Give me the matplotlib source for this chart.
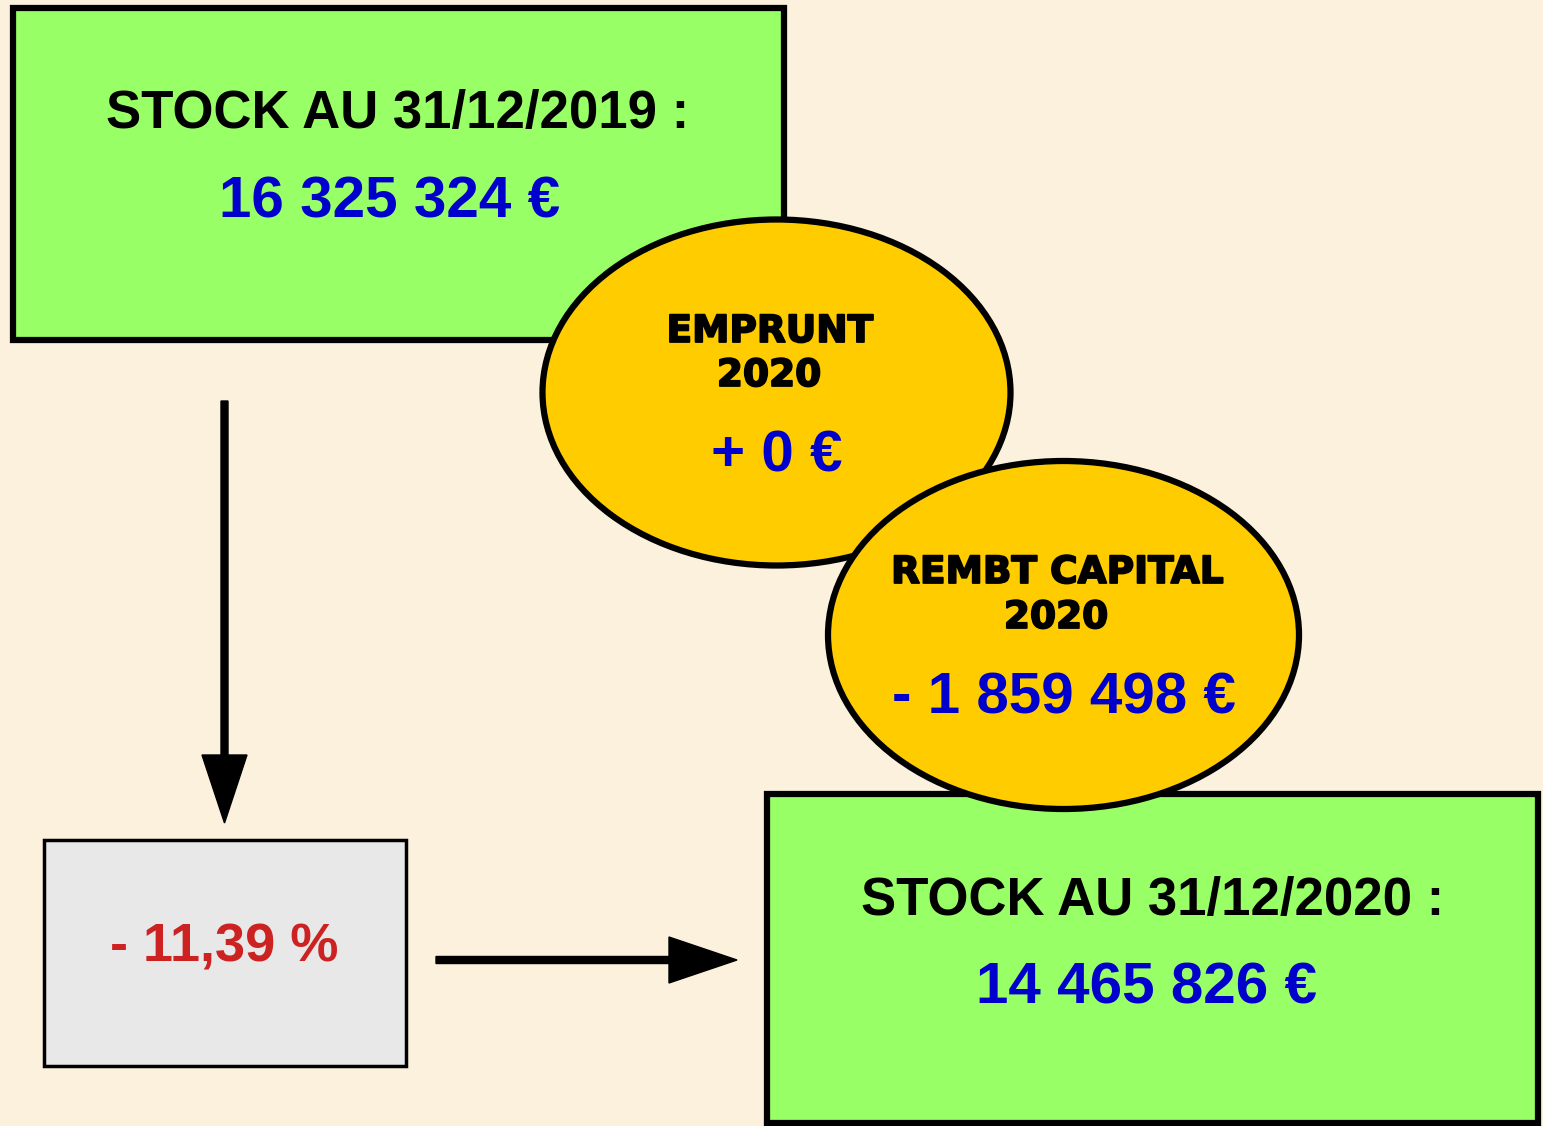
import matplotlib
matplotlib.use('Agg')
import matplotlib.pyplot as plt
import matplotlib.patheffects as pe
from matplotlib.patches import Rectangle, Ellipse, FancyArrow

# values shown in the diagram
stock_dates = ['31/12/2019', '31/12/2020']
stock_values = [16325324, 14465826]
flow_labels = ['EMPRUNT', 'REMBT CAPITAL']
flow_year = 2020
flow_values = [0, -1859498]
variation_pct = -11.39

BG = '#fbf1dc'
GREEN = '#99ff66'
YELLOW = '#ffcc00'
BLUE = '#0000cc'
RED = '#cc2222'
GREY = '#e8e8e8'
MAIN_FONT = ['Liberation Sans', 'DejaVu Sans']
BUBBLE_FONT = ['DejaVu Sans']


def fmt_euro(v, signed=False):
    s = '{:,}'.format(abs(v)).replace(',', ' ') + ' €'
    if signed:
        s = ('- ' if v < 0 else '+ ') + s
    return s


def fmt_pct(v):
    s = '{:.2f}'.format(abs(v)).replace('.', ',') + ' %'
    return ('- ' if v < 0 else '+ ') + s


W, H = 1543, 1126
fig = plt.figure(figsize=(W / 100, H / 100), dpi=100)
fig.patch.set_facecolor(BG)
ax = fig.add_axes([0, 0, 1, 1])
ax.set_xlim(0, W)
ax.set_ylim(H, 0)
ax.axis('off')
ax.set_facecolor(BG)

lw = 4.5

# stock boxes
box_pos = [(12.5, 8, 771, 332), (767, 793.5, 771, 329)]
for (x, y, w, h) in box_pos:
    ax.add_patch(Rectangle((x, y), w, h, facecolor=GREEN, edgecolor='black',
                           linewidth=lw, zorder=1, joinstyle='miter'))

# flow bubbles
bubble_pos = [(776.5, 392.5, 468, 346), (1063.5, 635, 471, 348)]
for i, (cx, cy, w, h) in enumerate(bubble_pos):
    ax.add_patch(Ellipse((cx, cy), w, h, facecolor=YELLOW, edgecolor='black',
                         linewidth=lw, zorder=2 + i))

# variation box
ax.add_patch(Rectangle((43.5, 840), 362.5, 225.5, facecolor=GREY, edgecolor='black',
                       linewidth=2.5, zorder=1))

# arrows
ax.add_patch(FancyArrow(224.5, 401, 0, 422, width=7, head_width=45, head_length=68,
                        length_includes_head=True, color='black', zorder=4))
ax.add_patch(FancyArrow(436, 960, 301, 0, width=7, head_width=46, head_length=68,
                        length_includes_head=True, color='black', zorder=4))

# stock texts
label_xy = [(397.5, 128), (1153, 915)]
value_xy = [(390, 217), (1146, 1003)]
for i in range(2):
    ax.text(label_xy[i][0], label_xy[i][1], 'STOCK AU {} :'.format(stock_dates[i]),
            ha='center', va='baseline', fontsize=38, fontweight='bold',
            family=MAIN_FONT, color='black', zorder=5)
    ax.text(value_xy[i][0], value_xy[i][1], fmt_euro(stock_values[i]),
            ha='center', va='baseline', fontsize=42, fontweight='bold',
            family=MAIN_FONT, color=BLUE, zorder=5)

# bubble texts (heavier look, like a black-weight face)
heavy = [pe.withStroke(linewidth=1.3, foreground='black')]
title_xy = [(770, 342), (1057.5, 583)]
year_xy = [(769, 386), (1056, 628)]
amount_xy = [(777, 471), (1063.5, 713)]
for i in range(2):
    ax.text(title_xy[i][0], title_xy[i][1], flow_labels[i], ha='center', va='baseline',
            fontsize=27, fontweight='bold', family=BUBBLE_FONT, color='black', zorder=6,
            path_effects=heavy)
    ax.text(year_xy[i][0], year_xy[i][1], str(flow_year), ha='center', va='baseline',
            fontsize=27, fontweight='bold', family=BUBBLE_FONT, color='black', zorder=6,
            path_effects=heavy)
    ax.text(amount_xy[i][0], amount_xy[i][1], fmt_euro(flow_values[i], signed=True),
            ha='center', va='baseline', fontsize=42, fontweight='bold',
            family=MAIN_FONT, color=BLUE, zorder=6)

ax.text(224.5, 962, fmt_pct(variation_pct), ha='center', va='baseline', fontsize=39,
        fontweight='bold', family=MAIN_FONT, color=RED, zorder=5)

fig.savefig('out.png', dpi=100, facecolor=BG)
